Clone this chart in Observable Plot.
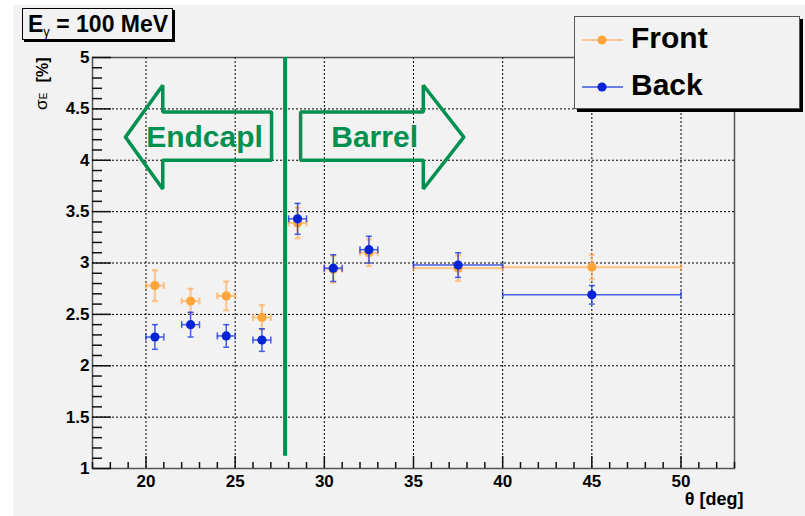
<!DOCTYPE html>
<html>
<head>
<meta charset="utf-8">
<script src="https://cdn.jsdelivr.net/npm/d3@7"></script>
<script src="https://cdn.jsdelivr.net/npm/@observablehq/plot@0.6"></script>
<style>
  html, body { margin: 0; padding: 0; background: #ffffff; }
  #wrap { position: relative; width: 805px; height: 516px; overflow: hidden; font-family: "Liberation Sans", Arial, sans-serif; }
  #bg { position: absolute; left: 13px; top: 5px; right: 0; bottom: 0; background: #f2f2f2; }
  #chart { position: absolute; left: 0; top: 0; }
  #title { position: absolute; left: 22px; top: 8px; width: 144px; height: 30px; border: 1px solid #000; box-shadow: 2px 2px 0 #000; background: #f2f2f2; font-weight: bold; font-size: 23px; line-height: 30px; padding-left: 5px; box-sizing: content-box; white-space: nowrap; }
  #title sub { font-size: 13px; vertical-align: -4px; font-weight: normal; }
  #legend { position: absolute; left: 574px; top: 16px; width: 224px; height: 91px; border: 1px solid #555; box-shadow: 3px 3px 0 #000; background: #f2f2f2; }
</style>
</head>
<body>
<div id="wrap">
  <div id="bg"></div>
  <div id="chart"></div>
  <div id="title">E<sub>γ</sub> = 100 MeV</div>
  <div id="legend"></div>
</div>
<script>
// ---- data ----
const theta      = [20.5, 22.5, 24.5, 26.5, 28.5, 30.5, 32.5, 37.5, 45];
const thetaErr   = [0.5, 0.5, 0.5, 0.5, 0.5, 0.5, 0.5, 2.5, 5];
const frontSigma = [2.78, 2.63, 2.68, 2.47, 3.39, 2.94, 3.10, 2.95, 2.96];
const frontErr   = [0.15, 0.12, 0.14, 0.12, 0.15, 0.13, 0.13, 0.125, 0.12];
const backSigma  = [2.28, 2.40, 2.29, 2.25, 3.43, 2.95, 3.13, 2.98, 2.69];
const backErr    = [0.12, 0.12, 0.11, 0.11, 0.15, 0.13, 0.13, 0.12, 0.09];
const seriesNames = ["Front", "Back"];
const xTicks = [20, 25, 30, 35, 40, 45, 50];
const yTicks = [1, 1.5, 2, 2.5, 3, 3.5, 4, 4.5, 5];
const boundaryTheta = 27.8;
const regionLabels = ["Endcapl", "Barrel"];
const regionLabelPos = [[23.28, 4.22], [32.82, 4.22]];
const leftArrow  = [[18.85,4.225],[20.94,4.73],[20.94,4.47],[27.04,4.47],[27.04,4.0],[20.94,4.0],[20.94,3.72],[18.85,4.225]];
const rightArrow = [[37.82,4.225],[35.55,4.73],[35.55,4.47],[28.67,4.47],[28.67,4.0],[35.55,4.0],[35.55,3.72],[37.82,4.225]];

// ---- styles ----
const GREEN = "#00904f";
const ORANGE = "#ffa53c";
const ORANGE_ERR = "rgba(255,170,80,0.6)";
const BLUE = "#0524d8";
const BLUE_ERR = "rgba(25,55,225,0.8)";
const FONT = "Liberation Sans, Arial, sans-serif";

const rows = (vals, errs) => theta.map((t, i) => ({t, te: thetaErr[i], v: vals[i], e: errs[i]}));
const front = rows(frontSigma, frontErr);
const back  = rows(backSigma, backErr);

const hcap = {draw(ctx, size) { const r = Math.sqrt(size / Math.PI); ctx.moveTo(-r, 0); ctx.lineTo(r, 0); }};
const vcap = {draw(ctx, size) { const r = Math.sqrt(size / Math.PI); ctx.moveTo(0, -r); ctx.lineTo(0, r); }};

function seriesMarks(data, color, errColor, errW) {
  return [
    Plot.ruleY(data, {y: "v", x1: d => d.t - d.te, x2: d => d.t + d.te, stroke: errColor, strokeWidth: errW}),
    Plot.ruleX(data, {x: "t", y1: d => d.v - d.e, y2: d => d.v + d.e, stroke: errColor, strokeWidth: errW}),
    Plot.dot(data, {x: d => d.t - d.te, y: "v", symbol: vcap, r: 3.5, fill: "none", stroke: errColor, strokeWidth: errW}),
    Plot.dot(data, {x: d => d.t + d.te, y: "v", symbol: vcap, r: 3.5, fill: "none", stroke: errColor, strokeWidth: errW}),
    Plot.dot(data, {x: "t", y: d => d.v - d.e, symbol: hcap, r: 3, fill: "none", stroke: errColor, strokeWidth: errW}),
    Plot.dot(data, {x: "t", y: d => d.v + d.e, symbol: hcap, r: 3, fill: "none", stroke: errColor, strokeWidth: errW}),
    Plot.dot(data, {x: "t", y: "v", r: 4.6, fill: color, stroke: "none"})
  ];
}

const xMinor = d3.range(17, 53.5, 1).filter(v => !xTicks.includes(v));
const yMinor = d3.range(10, 51, 1).map(v => v / 10).filter(v => !yTicks.includes(v));
const frameW = 805 - 92 - 71, frameH = 516 - 57 - 48;

const plot = Plot.plot({
  width: 805,
  height: 516,
  marginLeft: 92,
  marginRight: 71,
  marginTop: 57,
  marginBottom: 48,
  style: {background: "transparent", fontFamily: FONT, fontWeight: "bold", overflow: "visible"},
  x: {domain: [17, 53]},
  y: {domain: [1, 5]},
  marks: [
    Plot.frame({stroke: "#555", strokeWidth: 1.5, fill: "none"}),
    // grid
    Plot.ruleX(xTicks, {stroke: "#000", strokeDasharray: "2,2", strokeWidth: 1}),
    Plot.ruleY(yTicks.slice(1, -1), {stroke: "#000", strokeDasharray: "2,2", strokeWidth: 1}),
    // ticks
    Plot.ruleX(xTicks, {stroke: "#111", strokeWidth: 1.5, insetTop: frameH - 12}),
    Plot.ruleX(xMinor, {stroke: "#111", strokeWidth: 1.5, insetTop: frameH - 6}),
    Plot.ruleY(yTicks, {stroke: "#111", strokeWidth: 1.5, insetRight: frameW - 19}),
    Plot.ruleY(yMinor, {stroke: "#111", strokeWidth: 1.5, insetRight: frameW - 10}),
    Plot.axisX({ticks: xTicks, tickSize: 0, tickPadding: 6, fontSize: 17, fontWeight: "bold", fill: "#000", label: null, tickFormat: d => String(d)}),
    Plot.axisY({ticks: yTicks, tickSize: 0, tickPadding: 3, fontSize: 17, fontWeight: "bold", fill: "#000", label: null, tickFormat: d => String(d)}),
    // axis titles
    Plot.text(["θ [deg]"], {frameAnchor: "bottom-right", dx: 9, dy: 36, textAnchor: "end", fontSize: 18, fontWeight: "bold", fill: "#000"}),
    Plot.text(["[%]"], {frameAnchor: "top-left", dx: -56, dy: 0, rotate: -90, textAnchor: "end", fontSize: 16, fontWeight: "bold", fill: "#000"}),
    Plot.text(["E"], {frameAnchor: "top-left", dx: -53, dy: 35, rotate: -90, textAnchor: "end", fontSize: 10, fontWeight: "normal", fill: "#000"}),
    Plot.text(["σ"], {frameAnchor: "top-left", dx: -58, dy: 42, rotate: -90, textAnchor: "end", fontSize: 17, fontWeight: "normal", fill: "#000"}),
    // region annotation
    Plot.ruleX([boundaryTheta], {y1: 1.12, y2: 5, stroke: GREEN, strokeWidth: 4}),
    Plot.line(leftArrow, {stroke: GREEN, strokeWidth: 3.5, strokeLinejoin: "miter"}),
    Plot.line(rightArrow, {stroke: GREEN, strokeWidth: 3.5, strokeLinejoin: "miter"}),
    Plot.text(regionLabels, {x: (d, i) => regionLabelPos[i][0], y: (d, i) => regionLabelPos[i][1], text: d => d, fontSize: 30, fontWeight: "bold", fill: GREEN, lineAnchor: "middle"}),
    // data
    ...seriesMarks(front, ORANGE, ORANGE_ERR, 2.2),
    ...seriesMarks(back, BLUE, BLUE_ERR, 1.5)
  ]
});
document.getElementById("chart").appendChild(plot);

// legend
const lg = d3.select("#legend").append("svg").attr("width", 224).attr("height", 91)
  .style("font-family", FONT);
const legendItems = [
  {name: seriesNames[0], color: ORANGE, line: "rgba(255,170,80,0.8)", y: 23},
  {name: seriesNames[1], color: BLUE, line: "rgba(40,70,230,0.9)", y: 70}
];
legendItems.forEach(it => {
  lg.append("line").attr("x1", 7).attr("x2", 48).attr("y1", it.y).attr("y2", it.y).attr("stroke", it.line).attr("stroke-width", 1.5);
  lg.append("circle").attr("cx", 27).attr("cy", it.y).attr("r", 4.6).attr("fill", it.color);
  lg.append("text").attr("x", 56).attr("y", it.y + 8).attr("font-size", 30).attr("font-weight", "bold").text(it.name);
});
</script>
</body>
</html>
